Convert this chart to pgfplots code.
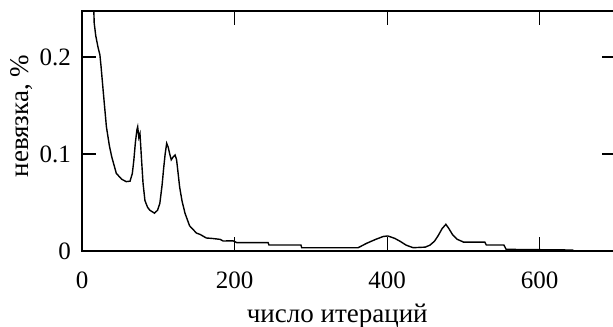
\documentclass[border=0pt]{standalone}
\usepackage{fontspec}
\setmainfont{Liberation Serif}
\usepackage{pgfplots}
\pgfplotsset{compat=1.18}
\begin{document}
\begin{tikzpicture}
\begin{axis}[
  scale only axis,
  width=267pt, height=120pt,
  xmin=0, xmax=700, ymin=0, ymax=0.2474,
  xtick={0,200,400,600},
  ytick={0,0.1,0.2},
  tick align=inside,
  tickpos=both,
  major tick length=7pt,
  axis line style={line width=0.6pt},
  every tick/.style={line width=0.6pt, black},
  /pgf/number format/assume math mode=true,
  tick label style={font=\fontsize{12.5}{14}\selectfont},
  yticklabel style={xshift=-2pt},
  xticklabel style={yshift=-7pt},
  label style={font=\fontsize{13.5}{16}\selectfont},
  xlabel={число итераций},
  ylabel={невязка, \%},
  xlabel style={at={(axis description cs:0.478,-0.296)}, anchor=base},
  ylabel style={at={(axis description cs:-0.101,0.5625)}, anchor=base},
  clip=true,
]
\addplot[black, line width=0.7pt] coordinates {
(15,0.26) (16,0.235) (18,0.222) (21,0.21) (23.5,0.202) (25,0.19) (28,0.163)
(32,0.128) (36,0.108) (39,0.097) (45,0.080) (52,0.074) (58,0.0715) (63,0.072)
(66,0.080) (68,0.094) (70,0.112) (72,0.125) (73,0.128) (74.5,0.117) (76,0.121)
(78,0.095) (80,0.070) (82.5,0.052) (86,0.045) (89,0.042) (95,0.039) (99,0.042)
(102,0.049) (105,0.068) (107,0.085) (109,0.100) (111,0.111) (113,0.107)
(115,0.100) (117,0.094) (119.5,0.097) (122,0.099) (124,0.094) (126,0.080)
(128,0.066) (131,0.052) (135,0.039) (141,0.026) (150,0.0185) (155,0.017)
(163,0.0134) (170,0.013) (181,0.012) (185,0.0103) (198,0.0105) (203,0.0086)
(244,0.0086) (245,0.0062) (287,0.0062) (288,0.0034) (362,0.0034) (373,0.0079)
(385,0.012) (395,0.015) (401,0.0155) (410,0.013) (417,0.010) (425,0.006)
(434,0.0034) (450,0.0040) (456,0.006) (462,0.010) (467,0.016) (472,0.023)
(477,0.0275) (481,0.023) (486,0.0165) (492,0.012) (499,0.0096) (500,0.0092)
(528,0.0092) (530,0.0062) (553,0.0062) (556,0.0017) (644,0.001)
};
\end{axis}
\pgfresetboundingbox
\path[use as bounding box] (current axis.south west) ++(-41pt,-37.5pt) rectangle ++(306.5pt,163pt);
\end{tikzpicture}
\end{document}
